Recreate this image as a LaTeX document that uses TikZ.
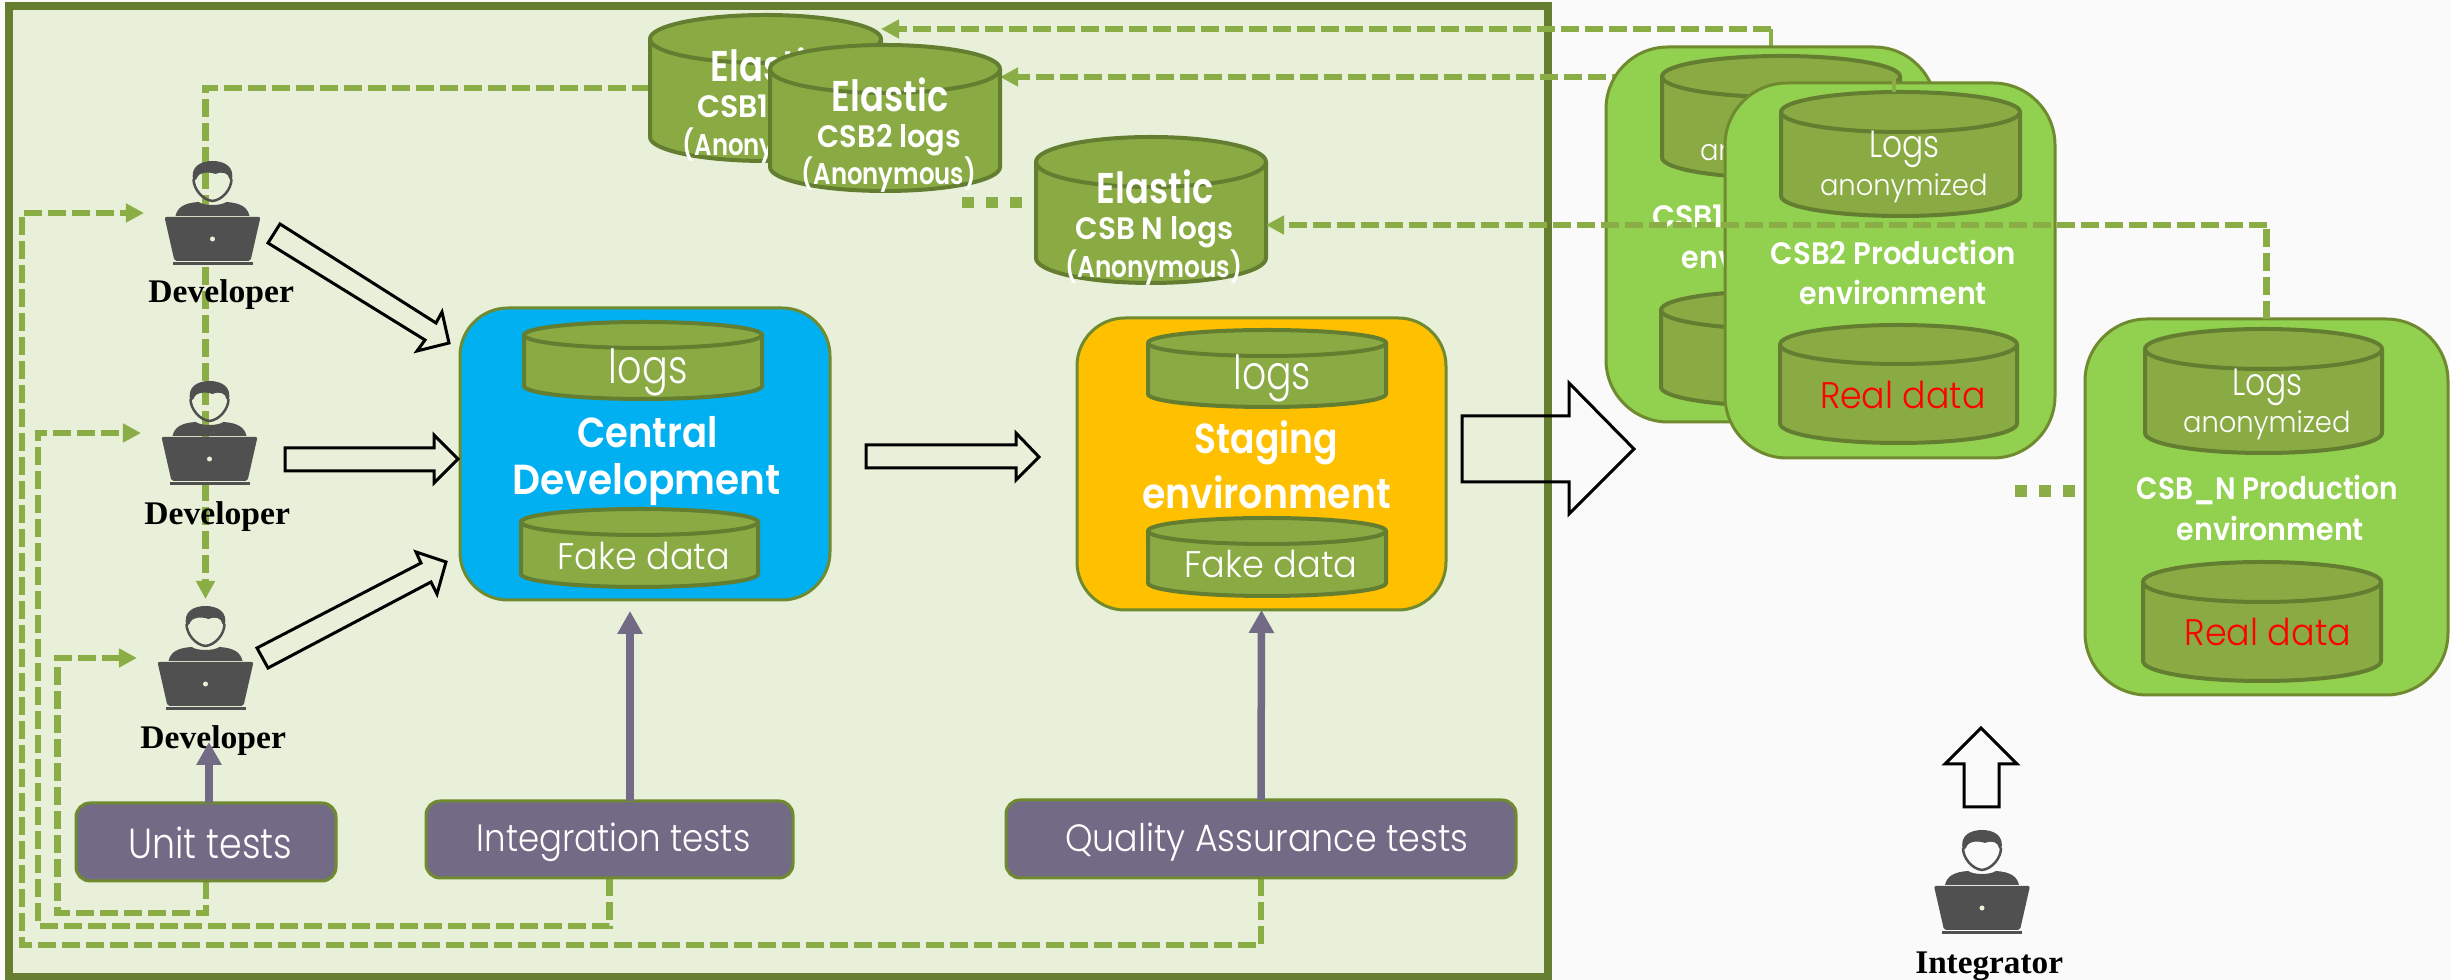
\documentclass[tikz,border=0pt]{standalone}
\usepackage{fontspec}
\usepackage{graphicx}
\usetikzlibrary{arrows.meta}
\setmainfont{Poppins}
\newfontfamily\pl{Poppins Light}
\newfontfamily\pb{Poppins}[UprightFont=* SemiBold]
\newfontfamily\dv{Liberation Serif}[UprightFont=* Bold]
\newdimen\px \px=0.01cm
\definecolor{framec}{HTML}{667E2F}
\definecolor{framebg}{HTML}{E8F0D9}
\definecolor{dgreen}{HTML}{8BAD45}
\definecolor{cylf}{HTML}{8AAB44}
\definecolor{cyls}{HTML}{637E30}
\definecolor{boxs}{HTML}{6F8A2F}
\definecolor{cblue}{HTML}{00B0F0}
\definecolor{cyel}{HTML}{FFC000}
\definecolor{cgrn}{HTML}{92D050}
\definecolor{cpur}{HTML}{736A86}
\definecolor{icon}{HTML}{505050}
\pgfdeclarelayer{back}\pgfdeclarelayer{low}\pgfdeclarelayer{top}
\pgfsetlayers{back,low,main,top}
\tikzset{
  dline/.style={draw=dgreen,line width=6.5\px,dash pattern=on 18\px off 6\px},
  dtip/.style={-{Triangle[length=5.12pt,width=5.12pt]}},
  dsolid/.style={draw=dgreen,line width=4.5\px},
  dotsq/.style={draw=dgreen,line width=11\px,dash pattern=on 12\px off 12\px},
  ptip/.style={draw=cpur,line width=7.5\px,-{Triangle[length=6.54pt,width=6.83pt]}},
  blockarrow/.style={draw=black,line width=3\px,line join=miter},
  cylshape/.style={fill=cylf,draw=cyls,line width=4\px},
  bx/.style={draw=boxs,line width=3\px,inner sep=0pt,outer sep=0pt,rounded corners=#1\px},
  anchorbox/.style={inner sep=0pt,outer sep=0pt},
  lbl/.style={inner sep=0pt,outer sep=0pt},
}
\newcommand\T[4]{\resizebox{#1\px}{\height}{\fontsize{#2\px}{#2\px}\selectfont #3 #4}}
% name x y width em font colour text
\newcommand\lab[8]{\node[lbl,text=#7] (#1) at (#2,#3) {\T{#4}{#5}{#6}{#8}};}
% name x0 x1 ytop ytoplower ybot
\newcommand\cyl[6]{%
  \pgfmathsetmacro\cx{(#2+#3)/2}\pgfmathsetmacro\rx{(#3-#2)/2}%
  \pgfmathsetmacro\ry{(#5-#4)/2}\pgfmathsetmacro\cy{(#5+#4)/2}%
  \pgfmathsetmacro\by{#6-\ry}\pgfmathsetmacro\mh{#6-#4}\pgfmathsetmacro\mw{#3-#2}%
  \pgfmathsetmacro\my{(#4+#6)/2}%
  \draw[cylshape] (#2,\cy) -- (#2,\by) arc[start angle=180,end angle=360,x radius=\rx\px,y radius=\ry\px] -- (#3,\cy) arc[start angle=0,end angle=180,x radius=\rx\px,y radius=\ry\px] -- cycle;
  \draw[cyls,line width=4\px] (#2,\cy) arc[start angle=180,end angle=360,x radius=\rx\px,y radius=\ry\px];
  \node[anchorbox,minimum width=\mw\px,minimum height=\mh\px] (#1) at (\cx,\my) {};
}
% name x0 x1 y0 y1 fill radius
\newcommand\rbox[7]{%
  \pgfmathsetmacro\cx{(#2+#3)/2}\pgfmathsetmacro\my{(#4+#5)/2}%
  \pgfmathsetmacro\mw{#3-#2}\pgfmathsetmacro\mh{#5-#4}%
  \node[bx=#7,fill=#6,minimum width=\mw\px,minimum height=\mh\px] (#1) at (\cx,\my) {};
}
% name cx laptop-top
\newcommand\person[3]{%
  \pgfmathsetmacro\my{#3-4}%
  \node[anchorbox,minimum width=137\px,minimum height=118\px] (#1) at (#2,\my) {};
  \begin{scope}[shift={(#2,#3)}]
    \fill[icon] (-19,-36) .. controls (-23,-50) and (-12,-56) .. (0,-56) .. controls (12,-56) and (23,-50) .. (19,-36) -- (17,-38) .. controls (16,-44) and (10,-46) .. (3,-43) .. controls (-2,-45) and (-14,-46) .. (-16,-38) -- cycle;
    \draw[icon,line width=2.5\px] (-19,-38) .. controls (-19,-28) and (-10,-17) .. (0,-16) .. controls (10,-17) and (19,-28) .. (19,-38);
    \fill[icon] (-37,-1) .. controls (-35,-10) and (-28,-14) .. (-14,-15) .. controls (-8,-11) and (8,-11) .. (14,-15) .. controls (28,-14) and (35,-10) .. (37,-1) -- cycle;
    \fill[icon,rounded corners=2\px] (-48,0) -- (48,0) -- (38,44) -- (-38,44) -- cycle;
    \fill[icon] (-40,45.5) rectangle (40,48);
    \fill[framebg] (0,22) circle[radius=2.5\px];
  \end{scope}
}
\begin{document}
\begin{tikzpicture}[x=0.01cm,y=-0.01cm]
\useasboundingbox (0,0) rectangle (2450,980);
\begin{pgfonlayer}{back}
  \fill[white!98!black] (0,0) rectangle (2450,980);
  \draw[framec,fill=framebg,line width=8\px] (9,6) rectangle (1548,977);
\end{pgfonlayer}

% --- Elastic cylinders
\cyl{elastica}{650}{881}{15}{63}{161}
\lab{ela}{765}{65}{125}{43}{\pb}{white}{Elastic}
\lab{elb}{765}{110}{150}{31}{\pb}{white}{CSB1 logs}
\lab{elc}{767}{146}{180}{30}{\pb}{white}{(Anonymous)}
\cyl{elasticb}{770}{1000}{45}{93}{191}
\lab{eba}{886}{95}{125}{43}{\pb}{white}{Elastic}
\lab{ebb}{886}{140}{150}{31}{\pb}{white}{CSB2 logs}
\lab{ebc}{886}{175}{180}{30}{\pb}{white}{(Anonymous)}
\cyl{elasticn}{1036}{1266}{137}{187}{283}
\lab{ena}{1151}{187}{125}{43}{\pb}{white}{Elastic}
\lab{enb}{1151}{232}{165}{31}{\pb}{white}{CSB N logs}
\lab{enc}{1151}{268}{183}{30}{\pb}{white}{(Anonymous)}
\coordinate (da) at (962,202.5); \coordinate (db) at (1022,202.5);
\draw[dotsq] (da) -- (db);

% --- Central development
\rbox{blue}{460}{830}{308}{600}{cblue}{48}
\cyl{bluelogs}{524}{762}{322}{348}{399}
\lab{bl}{643}{372}{89}{47}{\pl}{white}{logs}
\lab{bc}{643}{432}{149}{42}{\pb}{white}{Central}
\lab{bd}{642}{485}{277}{42}{\pb}{white}{Development}
\cyl{bluefake}{521}{758}{509}{535}{587}
\lab{bf}{639}{556}{182}{37}{\pl}{white}{Fake data}

% --- Staging
\rbox{yellow}{1077}{1446}{318}{610}{cyel}{48}
\cyl{yellogs}{1148}{1386}{330}{356}{407}
\lab{yl}{1267}{378}{88}{47}{\pl}{white}{logs}
\lab{ys}{1262}{443}{152}{42}{\pb}{white}{Staging}
\lab{ye}{1262}{492}{258}{42}{\pb}{white}{environment}
\cyl{yelfake}{1148}{1386}{518}{544}{596}
\lab{yf}{1266}{564}{183}{37}{\pl}{white}{Fake data}

% --- Production CSB1
\rbox{csba}{1606}{1936}{47}{422}{cgrn}{62}
\cyl{csbalogs}{1662}{1900}{56}{97}{178}
\lab{caa}{1780}{153}{175}{29}{\pl}{white}{anonymized}
\lab{cab}{1771}{215}{252}{31}{\pb}{white}{CSB1 Production}
\lab{cac}{1772}{257}{194}{31}{\pb}{white}{environment}
\cyl{csbareal}{1661}{1897}{291}{329}{406}
% --- Production CSB2
\rbox{csbb}{1725}{2055}{83}{458}{cgrn}{62}
\cyl{csbblogs}{1781}{2020}{92}{132}{216}
\lab{cbl}{1900}{149}{79}{38}{\pl}{white}{Logs}
\lab{cba}{1900}{188}{175}{29}{\pl}{white}{anonymized}
\lab{cbb}{1890}{252}{252}{31}{\pb}{white}{CSB2 Production}
\lab{cbc}{1890}{292}{194}{31}{\pb}{white}{environment}
\cyl{csbbreal}{1780}{2017}{325}{364}{443}
\lab{cbr}{1898}{395}{175}{37}{\pl}{red}{Real data}
% --- Production CSB N
\rbox{csbn}{2085}{2448}{319}{695}{cgrn}{62}
\cyl{csbnlogs}{2145}{2382}{329}{369}{453}
\lab{cnl}{2263}{387}{79}{38}{\pl}{white}{Logs}
\lab{cna}{2263}{425}{175}{29}{\pl}{white}{anonymized}
\lab{cnb}{2264}{490}{268}{31}{\pb}{white}{CSB\_N Production}
\lab{cnc}{2267}{528}{194}{31}{\pb}{white}{environment}
\cyl{csbnreal}{2143}{2381}{562}{602}{681}
\lab{cnr}{2263}{632}{176}{37}{\pl}{red}{Real data}
\coordinate (dc) at (2015,491); \coordinate (dd) at (2075,491);
\draw[dotsq,line width=12\px] (dc) -- (dd);

% --- Test boxes
\rbox{unit}{76}{336}{803}{881}{cpur}{14}
\lab{ut}{205.5}{843}{174}{42}{\pl}{white}{Unit tests}
\rbox{integ}{426}{793}{801}{878}{cpur}{14}
\lab{it}{609}{842}{283}{38}{\pl}{white}{Integration tests}
\rbox{qa}{1006}{1516}{800}{878}{cpur}{14}
\lab{qt}{1262}{842}{413}{38}{\pl}{white}{Quality Assurance tests}

% --- People
\person{deva}{212.5}{217}
\person{devb}{209.5}{437}
\person{devc}{205.5}{662}
\person{integrator}{1982}{886}
\lab{na}{217}{295}{154}{33}{\dv}{black}{Developer}
\lab{nb}{213}{517}{154}{33}{\dv}{black}{Developer}
\lab{nc}{209}{741}{154}{33}{\dv}{black}{Developer}
\lab{ni}{1985}{966}{156}{33}{\dv}{black}{Integrator}

% --- Dashed connectors
\coordinate (ra) at (22,945);
\coordinate (rb) at (38,926);
\coordinate (rc) at (57.5,913);
\coordinate (ca) at (1771,29);
\coordinate (cb) at (1894,77);
\coordinate (cc) at (2266.5,225);
\begin{pgfonlayer}{low}
  \draw[dline,dtip] (elastica.west) -| (devc.north);
  \draw[dline,dtip] (qa.south) |- (ra) |- (deva.west);
  \draw[dline,dtip] (integ.south) |- (rb) |- (devb.west);
  \draw[dline,dtip] (unit.south) |- (rc) |- (devc.west);
  \draw[dline,dtip] (ca) -- (elastica.east |- ca);
  \draw[dsolid] (csba.north) -- (ca);
  \draw[dline,dtip] (cb) -- (elasticb.east |- cb);
\end{pgfonlayer}
\begin{pgfonlayer}{top}
  \draw[dsolid] (csbblogs.north -| cb) -- (cb);
  \draw[dline] (csbn.north) -- (cc);
  \draw[dline,dtip] (cc) -- (elasticn.east |- cc);
  % test arrows
  \coordinate (ta) at (209,742);
  \coordinate (tb) at (630,611);
  \draw[ptip] (unit.north -| ta) -- (ta);
  \draw[ptip] (integ.north -| tb) -- (tb);
  \draw[ptip] (qa.north) -- (yellow.south);
  % block arrows
  \draw[blockarrow] (268,243) -- (280,224) -- (436,323) -- (442,312) -- (449,343) -- (417,351) -- (425,340) -- cycle;
  \draw[blockarrow] (285,448) -- (434,448) -- (434,435) -- (458,459) -- (434,483) -- (434,471) -- (285,471) -- cycle;
  \draw[blockarrow] (257,648) -- (421,563) -- (416,552) -- (446,562) -- (437,594) -- (431,582) -- (268,668) -- cycle;
  \draw[blockarrow] (866,445) -- (1016,445) -- (1016,433) -- (1039,457) -- (1016,480) -- (1016,468) -- (866,468) -- cycle;
  \draw[blockarrow] (1462,416) -- (1569,416) -- (1569,383) -- (1634,449) -- (1569,514) -- (1569,482) -- (1462,482) -- cycle;
  \draw[blockarrow] (1964,807) -- (1964,764) -- (1945,764) -- (1981,728) -- (2017,764) -- (1999,764) -- (1999,807) -- cycle;
\end{pgfonlayer}
\end{tikzpicture}
\end{document}
